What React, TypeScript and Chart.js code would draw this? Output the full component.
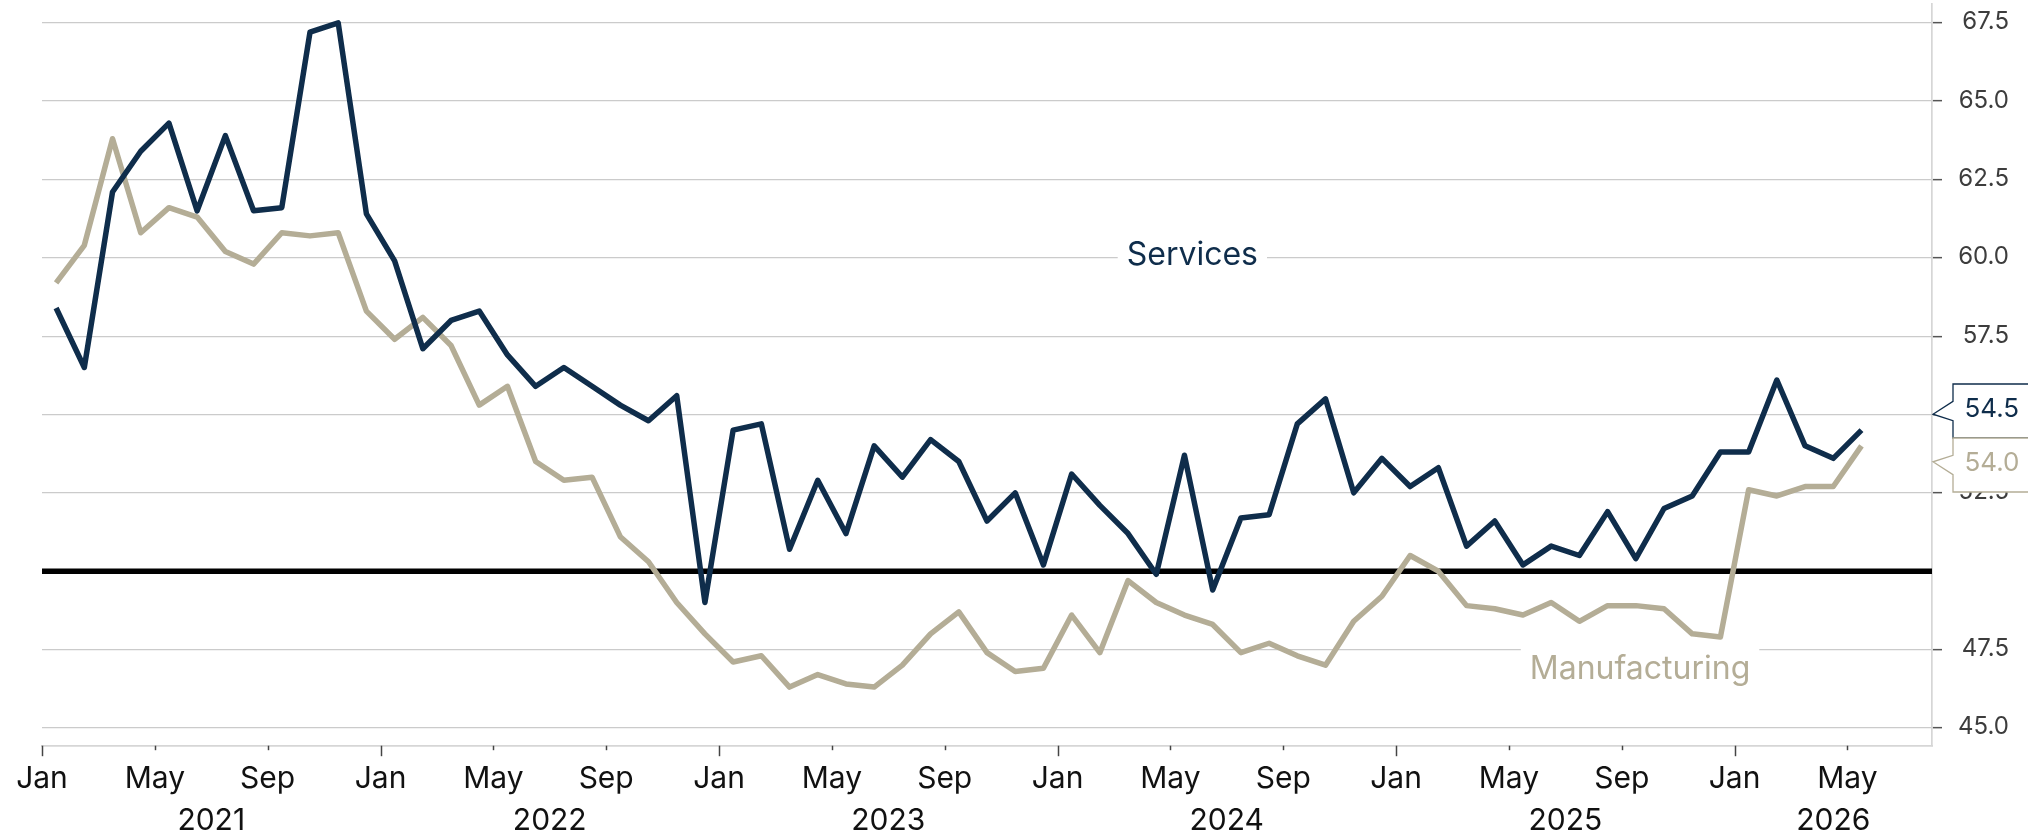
import React, { useEffect, useRef } from 'react';
import { Chart, registerables } from 'chart.js';

Chart.register(...registerables);

// ---- data (monthly, Jan 2021 .. May 2026) ----
const START_YEAR = 2021;
const services = [
  58.4, 56.5, 62.1, 63.4, 64.3, 61.5, 63.9, 61.5, 61.6, 67.2, 67.5, 61.4,
  59.9, 57.1, 58.0, 58.3, 56.9, 55.9, 56.5, 55.9, 55.3, 54.8, 55.6, 49.0,
  54.5, 54.7, 50.7, 52.9, 51.2, 54.0, 53.0, 54.2, 53.5, 51.6, 52.5, 50.2,
  53.1, 52.1, 51.2, 49.9, 53.7, 49.4, 51.7, 51.8, 54.7, 55.5, 52.5, 53.6,
  52.7, 53.3, 50.8, 51.6, 50.2, 50.8, 50.5, 51.9, 50.4, 52.0, 52.4, 53.8,
  53.8, 56.1, 54.0, 53.6, 54.5,
];
const manufacturing = [
  59.2, 60.4, 63.8, 60.8, 61.6, 61.3, 60.2, 59.8, 60.8, 60.7, 60.8, 58.3,
  57.4, 58.1, 57.2, 55.3, 55.9, 53.5, 52.9, 53.0, 51.1, 50.3, 49.0, 48.0,
  47.1, 47.3, 46.3, 46.7, 46.4, 46.3, 47.0, 48.0, 48.7, 47.4, 46.8, 46.9,
  48.6, 47.4, 49.7, 49.0, 48.6, 48.3, 47.4, 47.7, 47.3, 47.0, 48.4, 49.2,
  50.5, 50.0, 48.9, 48.8, 48.6, 49.0, 48.4, 48.9, 48.9, 48.8, 48.0, 47.9,
  52.6, 52.4, 52.7, 52.7, 54.0,
];
const xTickMonths = [0, 4, 8, 12, 16, 20, 24, 28, 32, 36, 40, 44, 48, 52, 56, 60, 64];
const xTickLabels = ['Jan', 'May', 'Sep', 'Jan', 'May', 'Sep', 'Jan', 'May', 'Sep', 'Jan', 'May', 'Sep', 'Jan', 'May', 'Sep', 'Jan', 'May'];
const years = [2021, 2022, 2023, 2024, 2025, 2026];
const yTicks = [45, 47.5, 52.5, 55, 57.5, 60, 62.5, 65, 67.5];
const THRESHOLD = 50;

// ---- styling ----
const FONT = 'Inter, "Noto Sans", sans-serif';
const NAVY = '#0f2d4b';
const BEIGE = '#b4ad96';
const X_MIN = 0;
const X_MAX = 67;
const Y_MIN = 44.43;
const Y_MAX = 68.1;

const seriesLabels = [
  { text: 'Services', x: 40.78, y: 60.14, color: NAVY },
  { text: 'Manufacturing', x: 56.65, y: 46.94, color: BEIGE },
];

const decor = {
  id: 'decor',
  beforeDatasetsDraw(chart: any) {
    const { ctx, chartArea: ca, scales } = chart;
    const xs = scales.x;
    const ys = scales.y;
    ctx.save();
    const y50 = ys.getPixelForValue(THRESHOLD);
    ctx.strokeStyle = '#000';
    ctx.lineWidth = 5.5;
    ctx.beginPath();
    ctx.moveTo(ca.left, y50);
    ctx.lineTo(ca.right, y50);
    ctx.stroke();

    ctx.font = `32px ${FONT}`;
    for (const lab of seriesLabels) {
      const w = ctx.measureText(lab.text).width;
      const cx = xs.getPixelForValue(lab.x);
      const cy = ys.getPixelForValue(lab.y);
      ctx.fillStyle = '#fff';
      ctx.fillRect(cx - w / 2 - 9, cy - 20, w + 18, 40);
      ctx.fillStyle = lab.color;
      ctx.textAlign = 'center';
      ctx.textBaseline = 'alphabetic';
      ctx.fillText(lab.text, cx, cy + 11.6);
    }
    ctx.restore();
  },
  afterDraw(chart: any) {
    const { ctx, chartArea: ca, scales } = chart;
    const xs = scales.x;
    const ys = scales.y;
    ctx.save();

    // x tick marks
    ctx.strokeStyle = '#444';
    ctx.lineWidth = 1.5;
    xTickMonths.forEach((m) => {
      const px = Math.round(xs.getPixelForValue(m)) + 0.5;
      const len = m % 12 === 0 ? 10.5 : 4.5;
      ctx.beginPath();
      ctx.moveTo(px, ca.bottom);
      ctx.lineTo(px, ca.bottom + len);
      ctx.stroke();
    });

    // x month labels
    ctx.font = `30px ${FONT}`;
    ctx.fillStyle = '#111';
    ctx.textAlign = 'center';
    ctx.textBaseline = 'alphabetic';
    xTickMonths.forEach((m, i) => {
      ctx.fillText(xTickLabels[i], xs.getPixelForValue(m), ca.bottom + 42.6);
    });
    // year labels
    years.forEach((yr) => {
      const s = (yr - START_YEAR) * 12;
      const e = Math.min(s + 12, X_MAX);
      const cx = (xs.getPixelForValue(s) + xs.getPixelForValue(e)) / 2;
      ctx.fillText(String(yr), cx, ca.bottom + 84.3);
    });

    // y labels
    ctx.font = `24px ${FONT}`;
    ctx.fillStyle = '#3d3d3d';
    ctx.textAlign = 'right';
    yTicks.forEach((v) => {
      ctx.fillText(v.toFixed(1), ca.right + 77, ys.getPixelForValue(v) + 6.5);
    });

    // last value boxes
    const H = 54;
    const items = [
      { v: services[services.length - 1], color: NAVY },
      { v: manufacturing[manufacturing.length - 1], color: BEIGE },
    ].map((it) => ({ ...it, dy: ys.getPixelForValue(it.v), c: ys.getPixelForValue(it.v) }));
    items.sort((a, b) => a.dy - b.dy);
    for (let i = 1; i < items.length; i++) {
      if (items[i].c - items[i - 1].c < H) {
        const mid = (items[i].dy + items[i - 1].dy) / 2;
        items[i - 1].c = mid - H / 2;
        items[i].c = mid + H / 2;
      }
    }
    const left = ca.right + 21;
    const right = chart.width + 10;
    ctx.font = `26px ${FONT}`;
    ctx.textAlign = 'left';
    items.forEach((it) => {
      const top = it.c - H / 2;
      const bot = it.c + H / 2;
      const tipY = Math.max(it.c - 3.2, Math.min(it.c + 3.2, it.dy));
      ctx.beginPath();
      ctx.moveTo(left, top);
      ctx.lineTo(right, top);
      ctx.lineTo(right, bot);
      ctx.lineTo(left, bot);
      ctx.lineTo(left, it.c + 9.7);
      ctx.lineTo(ca.right + 1, tipY);
      ctx.lineTo(left, it.c - 9.7);
      ctx.closePath();
      ctx.fillStyle = '#fff';
      ctx.fill();
      ctx.strokeStyle = it.color;
      ctx.lineWidth = 1.3;
      ctx.stroke();
      ctx.fillStyle = it.color;
      ctx.fillText(it.v.toFixed(1), left + 11.5, it.c + 6.5);
    });
    ctx.restore();
  },
};

export default function App() {
  const ref = useRef<HTMLCanvasElement>(null);
  useEffect(() => {
    if (!ref.current) return;
    const chart = new Chart(ref.current, {
      type: 'line',
      data: {
        datasets: [
          {
            label: 'Services',
            data: services.map((v, i) => ({ x: i + 0.5, y: v })),
            borderColor: NAVY,
            borderWidth: 5.5,
            borderJoinStyle: 'round',
            pointRadius: 0,
            tension: 0,
            fill: false,
          },
          {
            label: 'Manufacturing',
            data: manufacturing.map((v, i) => ({ x: i + 0.5, y: v })),
            borderColor: BEIGE,
            borderWidth: 5.5,
            borderJoinStyle: 'round',
            pointRadius: 0,
            tension: 0,
            fill: false,
          },
        ],
      },
      options: {
        animation: false,
        responsive: false,
        devicePixelRatio: 1,
        layout: { padding: { left: 42, top: 4, right: 0, bottom: 0 } },
        plugins: { legend: { display: false }, tooltip: { enabled: false } },
        scales: {
          x: {
            type: 'linear',
            position: 'bottom',
            min: X_MIN,
            max: X_MAX,
            grid: { display: false },
            ticks: { display: false },
            border: { display: true, color: '#d6d6d6', width: 1.7 },
            afterFit: (s: any) => { s.height = 91.3; },
          },
          y: {
            type: 'linear',
            position: 'right',
            min: Y_MIN,
            max: Y_MAX,
            afterBuildTicks: (s: any) => { s.ticks = yTicks.map((v) => ({ value: v })); },
            ticks: { display: false },
            grid: {
              color: '#cbcbcb',
              lineWidth: 1.3,
              drawTicks: true,
              tickLength: 10,
              tickColor: '#555',
              tickWidth: 1.5,
            },
            border: { display: true, color: '#d6d6d6', width: 1.7 },
            afterFit: (s: any) => { s.width = 96; },
          },
        },
      },
      plugins: [decor],
    });
    return () => chart.destroy();
  }, []);
  return (
    <div style={{ position: 'fixed', left: 0, top: 0, width: 2028, height: 837, background: '#fff' }}>
      <canvas ref={ref} width={2028} height={837} style={{ display: 'block', width: 2028, height: 837 }} />
    </div>
  );
}
